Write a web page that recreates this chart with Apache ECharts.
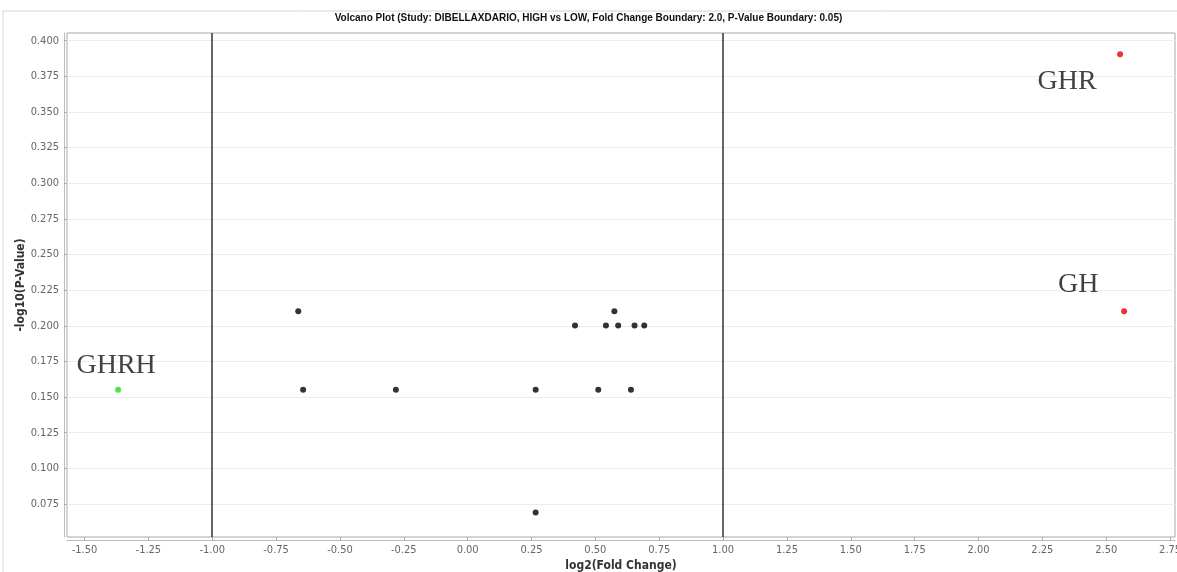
<!DOCTYPE html>
<html>
<head>
<meta charset="utf-8">
<script src="https://cdn.jsdelivr.net/npm/echarts@6/dist/echarts.min.js"></script>
<style>
  html, body { margin: 0; padding: 0; background: #fff; }
  #volcano { width: 1177px; height: 572px; }
</style>
</head>
<body>
<div id="volcano"></div>
<script>
// genes that did not pass the boundaries
var foldChange = [-0.662, -0.643, -0.280, 0.267, 0.512, 0.640, 0.421, 0.542, 0.590, 0.654, 0.692, 0.575, 0.267]
var negLogP = [0.210, 0.155, 0.155, 0.155, 0.155, 0.155, 0.200, 0.200, 0.200, 0.200, 0.200, 0.210, 0.069]

// highlighted genes
var hitNames = ['GHRH', 'GHR', 'GH']
var hitFold = [-1.367, 2.554, 2.570]
var hitP = [0.155, 0.390, 0.210]
var hitColors = ['#22dd22', '#e60000', '#e60000']
var hitLabelOffset = [[-2, -24], [-53, 27], [-46, -27]]

// fold change boundary (log2 of 2.0)
var boundaries = [-1, 1]

// axis ranges: plot extent, and the tick label range
var xExtent = [-1.567, 2.769]
var yExtent = [0.0519, 0.4049]
var xTicks = [-1.5, 2.75]
var yTicks = [0.075, 0.4]

var chartDom = document.getElementById('volcano')
var myChart = echarts.init(chartDom, null, { renderer: 'canvas' })

var labelFont = { color: '#666', fontSize: 11, fontFamily: 'DejaVu Sans Condensed' }
var nameFont = { fontSize: 12, fontWeight: 'bold', color: '#333', fontFamily: 'DejaVu Sans Condensed' }

var option = {
  backgroundColor: '#fff',
  animation: false,
  title: {
    text: 'Volcano Plot (Study: DIBELLAXDARIO, HIGH vs LOW, Fold Change Boundary: 2.0, P-Value Boundary: 0.05)',
    left: 'center',
    top: 8,
    textStyle: { fontSize: 10, fontWeight: 'bold', color: '#111', fontFamily: 'Liberation Sans' }
  },
  graphic: [
    {
      type: 'rect',
      shape: { x: 3, y: 11, width: 1190, height: 580 },
      style: { fill: null, stroke: '#d4d4d4', lineWidth: 1 },
      silent: true
    }
  ],
  grid: [
    // data area
    { left: 67, right: 2, top: 33, bottom: 35, show: true, borderColor: '#a8a8a8', borderWidth: 1, backgroundColor: 'transparent', containLabel: false, outerBoundsMode: 'none' },
    // y tick labels + horizontal grid lines
    { left: 67, right: 2, top: 40.7, bottom: 68, containLabel: false, outerBoundsMode: 'none' },
    // x tick labels
    { left: 84.5, right: 6.9, top: 33, bottom: 35, containLabel: false, outerBoundsMode: 'none' }
  ],
  xAxis: [
    {
      gridIndex: 0, type: 'value', min: xExtent[0], max: xExtent[1],
      name: 'log2(Fold Change)', nameLocation: 'middle', nameGap: 20, nameTextStyle: nameFont,
      axisLine: { show: true, onZero: false, lineStyle: { color: '#bbb' } },
      offset: 3,
      axisTick: { show: false }, axisLabel: { show: false }, splitLine: { show: false }
    },
    {
      gridIndex: 1, type: 'value', min: xExtent[0], max: xExtent[1], show: false,
      axisLine: { onZero: false }
    },
    {
      gridIndex: 2, type: 'value', min: xTicks[0], max: xTicks[1], interval: 0.25,
      axisLine: { show: false, onZero: false },
      axisTick: { show: true, length: 4, lineStyle: { color: '#aaa' } },
      axisLabel: Object.assign({ margin: 8, formatter: function (v) { return v.toFixed(2) } }, labelFont),
      splitLine: { show: false }
    }
  ],
  yAxis: [
    {
      gridIndex: 0, type: 'value', min: yExtent[0], max: yExtent[1],
      name: '-log10(P-Value)', nameLocation: 'middle', nameGap: 37, nameTextStyle: nameFont,
      axisLine: { show: true, onZero: false, lineStyle: { color: '#bbb' } },
      offset: 3,
      axisTick: { show: false }, axisLabel: { show: false }, splitLine: { show: false }
    },
    {
      gridIndex: 1, type: 'value', min: yTicks[0], max: yTicks[1], interval: 0.025,
      axisLine: { show: false, onZero: false },
      axisTick: { show: true, length: 3, lineStyle: { color: '#aaa' } },
      axisLabel: Object.assign({ margin: 8, formatter: function (v) { return v.toFixed(3) } }, labelFont),
      splitLine: { show: true, lineStyle: { color: '#ececec', width: 1 } }
    },
    {
      gridIndex: 2, type: 'value', show: false,
      axisLine: { onZero: false }
    }
  ],
  series: [
    {
      type: 'scatter',
      xAxisIndex: 0, yAxisIndex: 0,
      symbolSize: 6,
      itemStyle: { color: '#000' },
      data: foldChange.map(function (x, i) { return [x, negLogP[i]] }),
      markLine: {
        silent: true,
        symbol: ['none', 'none'],
        label: { show: false },
        lineStyle: { color: '#333', width: 1.5, type: 'solid' },
        data: boundaries.map(function (b) { return { xAxis: b } })
      }
    },
    {
      type: 'scatter',
      xAxisIndex: 0, yAxisIndex: 0,
      symbolSize: 6,
      data: hitNames.map(function (name, i) {
        return {
          name: name,
          value: [hitFold[i], hitP[i]],
          itemStyle: { color: hitColors[i] },
          label: {
            show: true,
            position: 'inside',
            offset: hitLabelOffset[i],
            formatter: name,
            fontSize: 28,
            fontFamily: 'Liberation Serif',
            color: '#111'
          }
        }
      })
    }
  ]
}

option && myChart.setOption(option)
</script>
</body>
</html>
